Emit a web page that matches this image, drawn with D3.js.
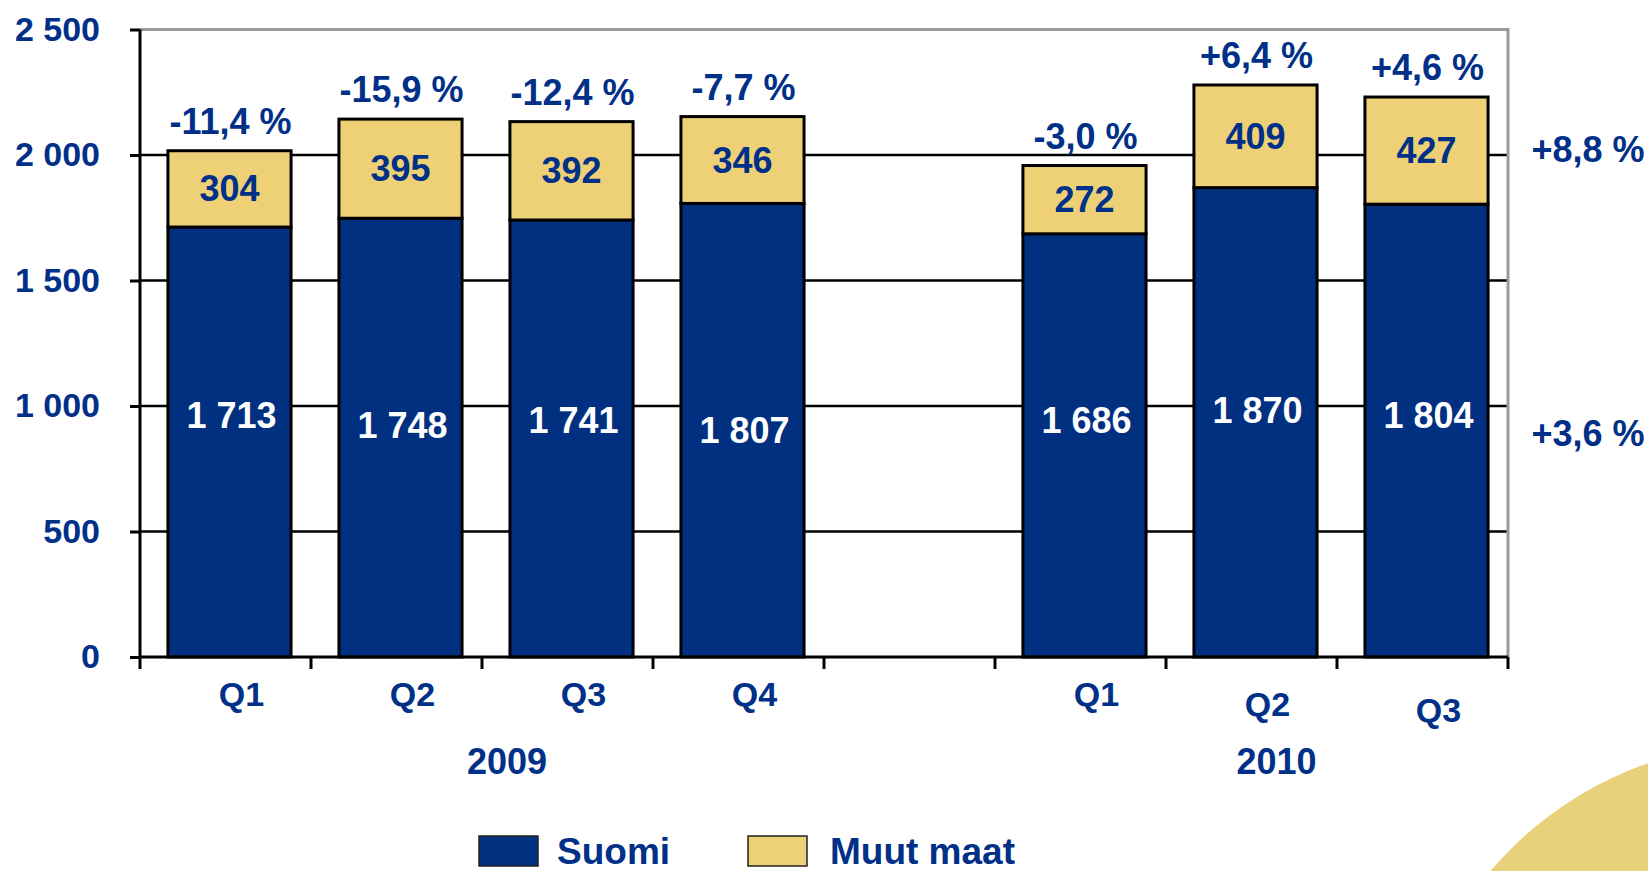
<!DOCTYPE html>
<html>
<head>
<meta charset="utf-8">
<script src="https://cdn.jsdelivr.net/npm/d3@7"></script>
<style>
  html, body { margin: 0; padding: 0; background: #ffffff; }
  svg { display: block; }
  text { font-family: "Liberation Sans", Arial, sans-serif; font-weight: bold; }
</style>
</head>
<body>
<script>
// ---- Data ----
const quarters = ["Q1", "Q2", "Q3", "Q4", "Q1", "Q2", "Q3"];
const years = ["2009", "2009", "2009", "2009", "2010", "2010", "2010"];
const suomi = [1713, 1748, 1741, 1807, 1686, 1870, 1804];
const muutMaat = [304, 395, 392, 346, 272, 409, 427];
const suomiLabels = ["1 713", "1 748", "1 741", "1 807", "1 686", "1 870", "1 804"];
const muutLabels = ["304", "395", "392", "346", "272", "409", "427"];
const changeLabels = ["-11,4 %", "-15,9 %", "-12,4 %", "-7,7 %", "-3,0 %", "+6,4 %", "+4,6 %"];
const yearGroups = ["2009", "2010"];
const yTickValues = [0, 500, 1000, 1500, 2000, 2500];
const yTickLabels = ["0", "500", "1 000", "1 500", "2 000", "2 500"];
const sideLabels = ["+8,8 %", "+3,6 %"];
const seriesNames = ["Suomi", "Muut maat"];

// ---- Layout / style ----
const W = 1648, H = 871;
const NAVY = "#00307f", GOLD = "#eed077", TEXT = "#003087", CIRCLE = "#e9d07b";
const FS_TICK = 34, FS_VAL = 36, FS_Q = 34, FS_YEAR = 36, FS_LEG = 37;
const plot = { left: 140, right: 1508, top: 29.5, bottom: 657 };
const BAR_SHIFT = 4;
const suomiNudge = [-5, 5, 0, 10, 0, -10, -5];
const qNudge = [0, 0, 0, 0, 0, 10, 16];

const svg = d3.select("body").append("svg").attr("width", W).attr("height", H);

// background decoration circle
svg.append("circle").attr("cx", 1768).attr("cy", 1108).attr("r", 365).attr("fill", CIRCLE);

// slots: 4 quarters of 2009, a gap, 3 quarters of 2010
const slotKeys = [];
years.forEach((y, i) => {
  if (i > 0 && years[i - 1] !== y) slotKeys.push("gap");
  slotKeys.push(y + " " + quarters[i]);
});
const keys = years.map((y, i) => y + " " + quarters[i]);

const x = d3.scaleBand().domain(slotKeys).range([plot.left, plot.right])
  .paddingInner(0.28).paddingOuter(0.14);
const y = d3.scaleLinear().domain([0, 2500]).range([plot.bottom, plot.top]);

// gridlines
svg.append("g").selectAll("line").data(yTickValues.filter(v => v > 0 && v < 2500)).join("line")
  .attr("x1", plot.left).attr("x2", plot.right)
  .attr("y1", d => y(d)).attr("y2", d => y(d))
  .attr("stroke", "#000").attr("stroke-width", 2.5);
// top & right border (grey)
svg.append("path")
  .attr("d", `M${plot.left},${y(2500)}H${plot.right}V${plot.bottom}`)
  .attr("fill", "none").attr("stroke", "#999").attr("stroke-width", 3);

// y axis
const yAxis = d3.axisLeft(y).tickValues(yTickValues).tickSize(10)
  .tickFormat((d, i) => yTickLabels[i]);
const yg = svg.append("g").attr("transform", `translate(${plot.left},0)`).call(yAxis);
yg.select(".domain").attr("stroke", "#000").attr("stroke-width", 3).attr("d", `M0,${plot.bottom}V${y(2500)}`);
yg.selectAll(".tick line").attr("stroke", "#000").attr("stroke-width", 3);
yg.selectAll(".tick text").attr("x", -40).attr("fill", TEXT)
  .style("font-size", FS_TICK + "px").style("font-weight", "bold")
  .style("font-family", '"Liberation Sans", Arial, sans-serif');

// bars
const barsG = svg.append("g").attr("transform", `translate(${BAR_SHIFT},0)`);
keys.forEach((k, i) => {
  const bx = x(k), bw = x.bandwidth();
  barsG.append("rect").attr("x", bx).attr("width", bw)
    .attr("y", y(suomi[i])).attr("height", y(0) - y(suomi[i]))
    .attr("fill", NAVY).attr("stroke", "#000").attr("stroke-width", 3);
  barsG.append("rect").attr("x", bx).attr("width", bw)
    .attr("y", y(suomi[i] + muutMaat[i])).attr("height", y(suomi[i]) - y(suomi[i] + muutMaat[i]))
    .attr("fill", GOLD).attr("stroke", "#000").attr("stroke-width", 3);
});

// x axis line and ticks (at slot boundaries)
svg.append("line").attr("x1", plot.left).attr("x2", plot.right)
  .attr("y1", plot.bottom).attr("y2", plot.bottom).attr("stroke", "#000").attr("stroke-width", 3);
const boundaries = slotKeys.map(k => x(k) - (x.step() - x.bandwidth()) / 2);
boundaries.push(plot.right);
svg.selectAll("line.xtick").data(boundaries).join("line")
  .attr("x1", d => d).attr("x2", d => d)
  .attr("y1", plot.bottom).attr("y2", plot.bottom + 12)
  .attr("stroke", "#000").attr("stroke-width", 3);

// labels
const lab = svg.append("g").attr("text-anchor", "middle");
keys.forEach((k, i) => {
  const cx = x(k) + x.bandwidth() / 2 + BAR_SHIFT;
  const total = suomi[i] + muutMaat[i];
  lab.append("text").attr("x", cx + 2).attr("y", 420 + suomiNudge[i]).attr("dy", "0.35em")
    .style("font-size", FS_VAL + "px").attr("fill", "#fff").text(suomiLabels[i]);
  lab.append("text").attr("x", cx).attr("y", (y(suomi[i]) + y(total)) / 2).attr("dy", "0.35em")
    .style("font-size", FS_VAL + "px").attr("fill", TEXT).text(muutLabels[i]);
  lab.append("text").attr("x", cx + 1).attr("y", y(total) - 17)
    .style("font-size", FS_VAL + "px").attr("fill", TEXT).text(changeLabels[i]);
  lab.append("text").attr("x", cx + 12).attr("y", 694 + qNudge[i]).attr("dy", "0.35em")
    .style("font-size", FS_Q + "px").attr("fill", TEXT).text(quarters[i]);
});

// year group labels
yearGroups.forEach(yr => {
  const ks = keys.filter((k, i) => years[i] === yr);
  const x0 = x(ks[0]), x1 = x(ks[ks.length - 1]) + x.bandwidth();
  lab.append("text").attr("x", (x0 + x1) / 2 + 25).attr("y", 761).attr("dy", "0.35em")
    .style("font-size", FS_YEAR + "px").attr("fill", TEXT).text(yr);
});

// right side labels
lab.append("text").attr("x", 1588).attr("y", 149).attr("dy", "0.35em")
  .style("font-size", FS_VAL + "px").attr("fill", TEXT).text(sideLabels[0]);
lab.append("text").attr("x", 1588).attr("y", 433).attr("dy", "0.35em")
  .style("font-size", FS_VAL + "px").attr("fill", TEXT).text(sideLabels[1]);

// legend
const legend = svg.append("g").style("font-size", FS_LEG + "px");
const legX = [479, 748];
seriesNames.forEach((s, i) => {
  legend.append("rect").attr("x", legX[i]).attr("y", 836).attr("width", 59).attr("height", 30)
    .attr("fill", i === 0 ? NAVY : GOLD).attr("stroke", "#222").attr("stroke-width", 1.5);
  legend.append("text").attr("x", legX[i] + (i === 0 ? 78 : 82)).attr("y", 864).attr("fill", TEXT).text(s);
});
</script>
</body>
</html>
